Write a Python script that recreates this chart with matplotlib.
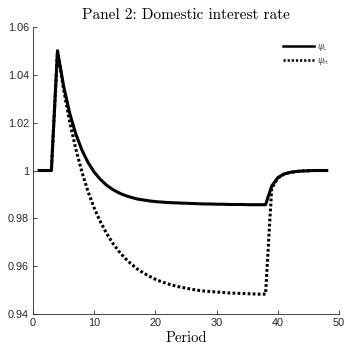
import matplotlib
matplotlib.use('Agg')
import matplotlib.pyplot as plt

# Impulse response of the domestic interest rate, periods 1..48
periods = list(range(1, 49))

psi_L = [1.0, 1.0, 1.0, 1.050, 1.0353, 1.0239, 1.0152, 1.0085, 1.0033, 0.9993,
         0.9963, 0.9939, 0.9921, 0.9907, 0.9896, 0.9888, 0.9881, 0.9877, 0.9873, 0.9870,
         0.9868, 0.9866, 0.9865, 0.9864, 0.9863, 0.9862, 0.9861, 0.9860, 0.9860, 0.9859,
         0.9859, 0.9858, 0.9858, 0.9858, 0.9857, 0.9857, 0.9857, 0.9857, 0.9935, 0.9970,
         0.9985, 0.9992, 0.9996, 0.9998, 0.9999, 1.0, 1.0, 1.0]

psi_H = [1.0, 1.0, 1.0, 1.050, 1.0339, 1.0203, 1.0089, 0.9993, 0.9911, 0.9843,
         0.9786, 0.9738, 0.9697, 0.9663, 0.9634, 0.9610, 0.9589, 0.9572, 0.9558, 0.9545,
         0.9535, 0.9526, 0.9519, 0.9513, 0.9508, 0.9503, 0.9499, 0.9496, 0.9494, 0.9492,
         0.9490, 0.9488, 0.9487, 0.9486, 0.9485, 0.9484, 0.9483, 0.9483, 0.9925, 0.9968,
         0.9985, 0.9992, 0.9996, 0.9998, 0.9999, 1.0, 1.0, 1.0]

y_ticks = [0.94, 0.96, 0.98, 1.0, 1.02, 1.04, 1.06]
y_tick_labels = ['0.94', '0.96', '0.98', '1', '1.02', '1.04', '1.06']
x_ticks = [0, 10, 20, 30, 40, 50]

axis_color = '#262626'

fig = plt.figure(figsize=(3.45, 3.48), dpi=100)
ax = fig.add_axes([0.0957, 0.0977, 0.8869, 0.8247])

ax.plot(periods, psi_L, color='black', linewidth=2.2, label=r'$\psi_{\mathsf{L}}$')
ax.plot(periods, psi_H, color='black', linewidth=2.2, linestyle=(0, (0.9, 0.75)),
        label=r'$\psi_{\mathsf{H}}$')

ax.set_xlim(0, 50)
ax.set_ylim(0.94, 1.06)
ax.set_xticks(x_ticks)
ax.set_yticks(y_ticks)
ax.set_yticklabels(y_tick_labels)

for side in ['top', 'right']:
    ax.spines[side].set_visible(False)
for side in ['left', 'bottom']:
    ax.spines[side].set_color(axis_color)
    ax.spines[side].set_linewidth(0.6)

ax.tick_params(direction='in', length=3, width=0.6, colors=axis_color,
               labelsize=7.8, pad=3)
for lbl in ax.get_xticklabels() + ax.get_yticklabels():
    lbl.set_fontfamily('Liberation Sans')

ax.set_title('Panel 2: Domestic interest rate', fontfamily='cmr10', fontsize=11, pad=6)
ax.set_xlabel('Period', fontfamily='cmr10', fontsize=10.5, labelpad=2.5)

leg = ax.legend(loc='upper right', bbox_to_anchor=(0.995, 0.975), frameon=False,
                fontsize=6.5, handlelength=3.4, handletextpad=0.35, labelspacing=0.35)
for line in leg.get_lines():
    line.set_linewidth(1.8)
for txt in leg.get_texts():
    txt.set_color('#555555')

plt.savefig('out.png', dpi=100)
